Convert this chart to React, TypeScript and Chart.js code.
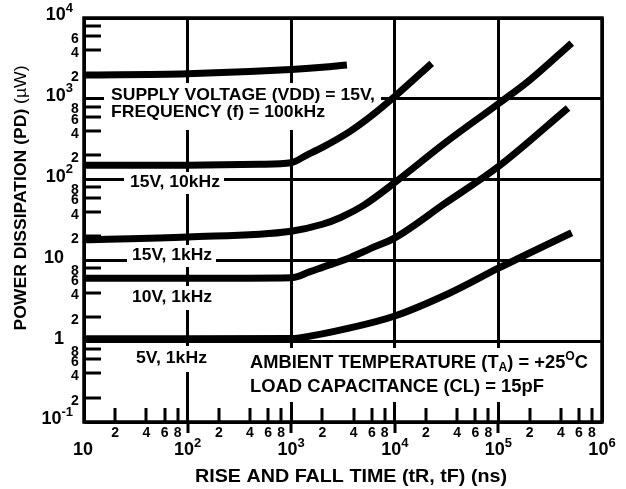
import React, { useEffect, useRef } from 'react';
import { Chart, registerables } from 'chart.js';

Chart.register(...registerables);

// ---------- data (rise/fall time in ns, power dissipation in µW) ----------
const time15V100k = [10, 100, 1000, 2000, 3450];
const power15V100k = [1970, 2040, 2300, 2450, 2620];

const time15V10k = [10, 100, 500, 1000, 1400, 2000, 3700, 6000, 10000, 22700];
const power15V10k = [150, 151, 155, 162, 200, 250, 395, 620, 1070, 2750];

const time15V1k = [10, 100, 1000, 2000, 3000, 5000, 10000, 30000, 100000, 200000, 510000];
const power15V1k = [18, 19.5, 23, 28, 34, 48, 92, 280, 870, 1700, 4900];

const time10V1k = [10, 100, 1000, 1500, 2000, 3700, 5800, 10000, 30000, 100000, 470000];
const power10V1k = [6, 6, 6.1, 7.2, 8.2, 10.8, 14, 19, 50, 145, 770];

const time5V1k = [10, 100, 1000, 1200, 3700, 10000, 34000, 100000, 510000];
const power5V1k = [1.07, 1.07, 1.08, 1.1, 1.46, 2.05, 3.95, 8, 22];

// ---------- axes ----------
const xMin = 10;
const xMax = 1e6;
const yMin = 0.1;
const yMax = 1e4;
const xDecadeExponents = [1, 2, 3, 4, 5, 6];
const xDecadeBases = ['10', '10', '10', '10', '10', '10'];
const xDecadeSuperscripts = ['', '2', '3', '4', '5', '6'];
const yDecadeExponents = [-1, 0, 1, 2, 3, 4];
const yDecadeBases = ['10', '1', '10', '10', '10', '10'];
const yDecadeSuperscripts = ['-1', '', '', '2', '3', '4'];
const minorMultipliers = [2, 4, 6, 8];
const minorLabels = ['2', '4', '6', '8'];
const yMinorLabelExclusions = [8000];

const xTitle = 'RISE AND FALL TIME (tR, tF) (ns)';
const yTitleMain = 'POWER DISSIPATION (PD) ';
const yTitleUnit = '(\u00B5W)';

const FONT = '"Liberation Sans", Arial, Helvetica, sans-serif';
const bold = (s: number) => `bold ${s}px ${FONT}`;

type Run = { text: string; font: string; dy?: number };

function drawRuns(
  ctx: CanvasRenderingContext2D,
  runs: Run[],
  x: number,
  y: number,
  align: 'left' | 'right' | 'center',
  fitWidth?: number
) {
  let total = 0;
  for (const r of runs) {
    ctx.font = r.font;
    total += ctx.measureText(r.text).width;
  }
  const k = fitWidth ? fitWidth / total : 1;
  const w = total * k;
  const start = align === 'right' ? x - w : align === 'center' ? x - w / 2 : x;
  ctx.save();
  ctx.translate(start, y);
  ctx.scale(k, 1);
  ctx.textAlign = 'left';
  ctx.textBaseline = 'middle';
  let cx = 0;
  for (const r of runs) {
    ctx.font = r.font;
    ctx.fillText(r.text, cx, r.dy || 0);
    cx += ctx.measureText(r.text).width;
  }
  ctx.restore();
  return w;
}

function isDecade(v: number) {
  const l = Math.log10(v);
  return Math.abs(l - Math.round(l)) < 1e-6;
}

const decorPlugin = {
  id: 'decor',
  beforeDatasetsDraw(chart: any) {
    const ctx: CanvasRenderingContext2D = chart.ctx;
    const xs = chart.scales.x;
    const ys = chart.scales.y;
    const a = chart.chartArea;
    ctx.save();
    ctx.fillStyle = '#000';
    ctx.strokeStyle = '#000';

    // minor ticks (inward)
    ctx.lineWidth = 3;
    for (let e = 1; e <= 5; e++) {
      for (const m of minorMultipliers) {
        const px = Math.round(xs.getPixelForValue(m * Math.pow(10, e)));
        ctx.beginPath();
        ctx.moveTo(px, a.bottom);
        ctx.lineTo(px, a.bottom - 14);
        ctx.stroke();
      }
    }
    for (let e = -1; e <= 3; e++) {
      for (const m of minorMultipliers) {
        const py = Math.round(ys.getPixelForValue(m * Math.pow(10, e)));
        ctx.beginPath();
        ctx.moveTo(a.left, py);
        ctx.lineTo(a.left + 17, py);
        ctx.stroke();
      }
    }
    // major x ticks extending below the axis
    ctx.lineWidth = 3;
    for (const e of xDecadeExponents) {
      const v = Math.pow(10, e);
      if (v <= xMin || v >= xMax) continue;
      const px = Math.round(xs.getPixelForValue(v));
      ctx.beginPath();
      ctx.moveTo(px, a.bottom);
      ctx.lineTo(px, a.bottom + 11);
      ctx.stroke();
    }

    // white boxes behind annotations (break the grid lines)
    ctx.fillStyle = '#fff';
    const boxes = [
      [104, 83, 277, 47],
      [124, 172, 100, 22],
      [127, 245, 89, 22],
      [127, 286, 89, 24],
      [131, 346, 81, 26],
      [243, 348, 355, 54],
    ];
    for (const b of boxes) ctx.fillRect(b[0], b[1], b[2], b[3]);

    ctx.fillStyle = '#000';
    // annotations
    drawRuns(ctx, [{ text: 'SUPPLY VOLTAGE (VDD) = 15V,', font: bold(17) }], 111, 95, 'left', 264);
    drawRuns(ctx, [{ text: 'FREQUENCY (f) = 100kHz', font: bold(17) }], 111, 112, 'left', 214);
    drawRuns(ctx, [{ text: '15V, 10kHz', font: bold(17) }], 130, 182, 'left', 90);
    drawRuns(ctx, [{ text: '15V, 1kHz', font: bold(17) }], 132, 255, 'left', 80);
    drawRuns(ctx, [{ text: '10V, 1kHz', font: bold(17) }], 132, 297, 'left', 80);
    drawRuns(ctx, [{ text: '5V, 1kHz', font: bold(17) }], 136, 358, 'left', 71);
    drawRuns(
      ctx,
      [
        { text: 'AMBIENT TEMPERATURE (T', font: bold(18) },
        { text: 'A', font: bold(12), dy: 5 },
        { text: ') = +25', font: bold(18) },
        { text: 'O', font: bold(12), dy: -6 },
        { text: 'C', font: bold(18) },
      ],
      250,
      363,
      'left',
      338
    );
    drawRuns(ctx, [{ text: 'LOAD CAPACITANCE (CL) = 15pF', font: bold(18) }], 250, 387, 'left', 294);

    // x tick labels
    for (let e = 1; e <= 5; e++) {
      minorMultipliers.forEach((m, i) => {
        const px = xs.getPixelForValue(m * Math.pow(10, e));
        drawRuns(ctx, [{ text: minorLabels[i], font: bold(14) }], px, a.bottom + 11, 'center');
      });
    }
    xDecadeExponents.forEach((e, i) => {
      const px = xs.getPixelForValue(Math.pow(10, e));
      const runs: Run[] = [{ text: xDecadeBases[i], font: bold(18) }];
      if (xDecadeSuperscripts[i]) runs.push({ text: xDecadeSuperscripts[i], font: bold(13), dy: -7 });
      drawRuns(ctx, runs, px + (xDecadeSuperscripts[i] ? 0 : -1), a.bottom + 28, 'center');
    });

    // y tick labels
    for (let e = -1; e <= 3; e++) {
      minorMultipliers.forEach((m, i) => {
        const v = m * Math.pow(10, e);
        if (yMinorLabelExclusions.some((q) => Math.abs(q - v) < 1e-6)) return;
        const py = ys.getPixelForValue(v);
        drawRuns(ctx, [{ text: minorLabels[i], font: bold(14) }], a.left - 9, py + 3, 'center');
      });
    }
    yDecadeExponents.forEach((e, i) => {
      const py = ys.getPixelForValue(Math.pow(10, e));
      if (yDecadeSuperscripts[i]) {
        drawRuns(
          ctx,
          [
            { text: yDecadeBases[i], font: bold(18) },
            { text: yDecadeSuperscripts[i], font: bold(13), dy: -7 },
          ],
          a.left - 11,
          py - 3,
          'right'
        );
      } else {
        drawRuns(ctx, [{ text: yDecadeBases[i], font: bold(18) }], a.left - 20, py - 2, 'right');
      }
    });

    // axis titles
    drawRuns(ctx, [{ text: xTitle, font: bold(18) }], 195, 477, 'left', 312);
    ctx.save();
    ctx.translate(21, 198);
    ctx.rotate(-Math.PI / 2);
    drawRuns(
      ctx,
      [
        { text: yTitleMain, font: bold(17) },
        { text: yTitleUnit, font: `17px ${FONT}` },
      ],
      0,
      0,
      'center',
      265
    );
    ctx.restore();
    ctx.restore();
  },
  afterDatasetsDraw(chart: any) {
    const ctx: CanvasRenderingContext2D = chart.ctx;
    const a = chart.chartArea;
    ctx.save();
    ctx.strokeStyle = '#000';
    ctx.lineWidth = 3.5;
    ctx.strokeRect(a.left, a.top, a.right - a.left, a.bottom - a.top);
    ctx.restore();
  },
};

const gridColor = (c: any) => {
  const v = c.tick ? c.tick.value : null;
  if (v == null) return 'rgba(0,0,0,0)';
  return isDecade(v) ? '#000' : 'rgba(0,0,0,0)';
};

function toPoints(xs: number[], ys: number[]) {
  return xs.map((x, i) => ({ x, y: ys[i] }));
}

export default function App() {
  const ref = useRef<HTMLCanvasElement | null>(null);
  useEffect(() => {
    if (!ref.current) return;
    const series = [
      { label: '15V, 100kHz', x: time15V100k, y: power15V100k },
      { label: '15V, 10kHz', x: time15V10k, y: power15V10k },
      { label: '15V, 1kHz', x: time15V1k, y: power15V1k },
      { label: '10V, 1kHz', x: time10V1k, y: power10V1k },
      { label: '5V, 1kHz', x: time5V1k, y: power5V1k },
    ];
    const chart = new Chart(ref.current, {
      type: 'line',
      data: {
        datasets: series.map((s) => ({
          label: s.label,
          data: toPoints(s.x, s.y),
          borderColor: '#000',
          backgroundColor: '#000',
          borderWidth: 7,
          pointRadius: 0,
          fill: false,
          cubicInterpolationMode: 'monotone' as const,
          borderCapStyle: 'butt' as const,
        })),
      },
      options: {
        animation: false,
        responsive: false,
        devicePixelRatio: 1,
        layout: { padding: { left: 84, top: 18, right: 24, bottom: 67 } },
        plugins: { legend: { display: false }, tooltip: { enabled: false } },
        scales: {
          x: {
            type: 'logarithmic',
            min: xMin,
            max: xMax,
            ticks: { display: false },
            grid: { drawTicks: false, color: gridColor, lineWidth: 3 },
            border: { display: false },
          },
          y: {
            type: 'logarithmic',
            min: yMin,
            max: yMax,
            ticks: { display: false },
            grid: { drawTicks: false, color: gridColor, lineWidth: 3 },
            border: { display: false },
          },
        },
      },
      plugins: [decorPlugin],
    });
    return () => chart.destroy();
  }, []);
  return (
    <div style={{ position: 'fixed', left: 0, top: 0, width: 626, height: 489, background: '#fff' }}>
      <canvas ref={ref} width={626} height={489} style={{ width: 626, height: 489, display: 'block' }} />
    </div>
  );
}
